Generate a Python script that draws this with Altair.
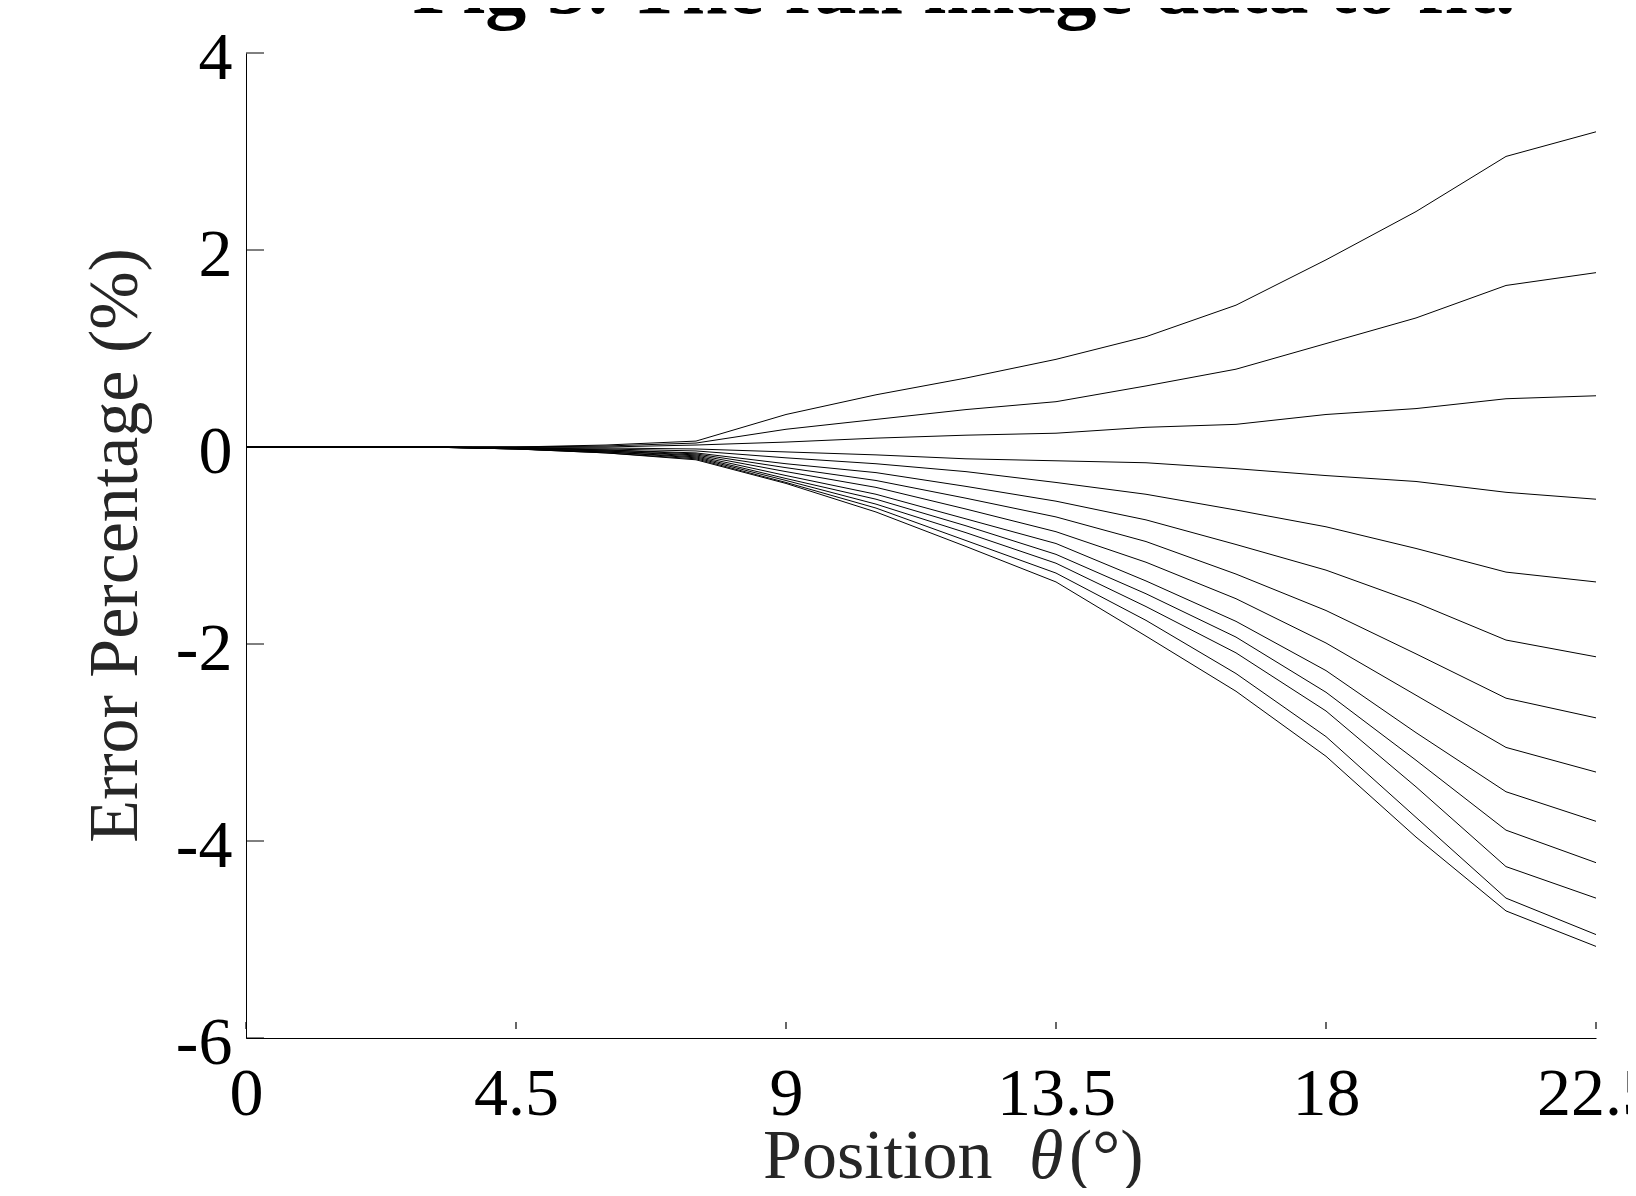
import altair as alt
import pandas as pd

theta = [0, 1.5, 3, 4.5, 6, 7.5, 9, 10.5, 12, 13.5, 15, 16.5, 18, 19.5, 21, 22.5]

s01 = [0, 0, 0, 0.0, 0.02, 0.06, 0.33, 0.53, 0.70, 0.89, 1.12, 1.44, 1.90, 2.39, 2.95, 3.20]
s02 = [0, 0, 0, 0.0, 0.01, 0.04, 0.18, 0.28, 0.38, 0.46, 0.62, 0.79, 1.05, 1.31, 1.64, 1.77]
s03 = [0, 0, 0, 0.0, 0.00, 0.02, 0.05, 0.09, 0.12, 0.14, 0.20, 0.23, 0.33, 0.39, 0.49, 0.52]
s04 = [0, 0, 0, -0.005, -0.01, -0.02, -0.05, -0.08, -0.12, -0.14, -0.16, -0.22, -0.29, -0.35, -0.46, -0.53]
s05 = [0, 0, 0, -0.01, -0.02, -0.04, -0.11, -0.17, -0.25, -0.36, -0.48, -0.64, -0.81, -1.03, -1.27, -1.37]
s06 = [0, 0, 0, -0.01, -0.03, -0.06, -0.17, -0.26, -0.40, -0.55, -0.74, -0.99, -1.25, -1.58, -1.96, -2.13]
s07 = [0, 0, 0, -0.01, -0.03, -0.07, -0.21, -0.34, -0.52, -0.71, -0.96, -1.29, -1.66, -2.10, -2.55, -2.75]
s08 = [0, 0, 0, -0.015, -0.04, -0.08, -0.25, -0.41, -0.63, -0.86, -1.17, -1.54, -1.99, -2.52, -3.05, -3.30]
s09 = [0, 0, 0, -0.015, -0.04, -0.09, -0.29, -0.48, -0.73, -0.98, -1.36, -1.77, -2.27, -2.90, -3.50, -3.80]
s10 = [0, 0, 0, -0.02, -0.05, -0.10, -0.32, -0.53, -0.80, -1.09, -1.49, -1.93, -2.49, -3.18, -3.89, -4.22]
s11 = [0, 0, 0, -0.02, -0.05, -0.11, -0.34, -0.58, -0.87, -1.18, -1.62, -2.09, -2.68, -3.45, -4.26, -4.58]
s12 = [0, 0, 0, -0.02, -0.06, -0.12, -0.36, -0.62, -0.95, -1.28, -1.76, -2.30, -2.94, -3.76, -4.58, -4.95]
s13 = [0, 0, 0, -0.02, -0.06, -0.13, -0.37, -0.66, -1.01, -1.37, -1.92, -2.48, -3.14, -3.96, -4.71, -5.07]

series = [s01, s02, s03, s04, s05, s06, s07, s08, s09, s10, s11, s12, s13]

x_ticks = [0, 4.5, 9, 13.5, 18, 22.5]
y_ticks = [-6, -4, -2, 0, 2, 4]

title_text = "Fig 5. The full image data to fit."
x_title_parts = ["Position", "θ", "(°)"]
y_title = "Error Percentage (%)"

rows = []
for i, s in enumerate(series):
    for t, v in zip(theta, s):
        rows.append({"theta": t, "err": v, "series": f"s{i+1:02d}"})
df = pd.DataFrame(rows)

W, H = 1350, 985
FONT = "Liberation Serif"
TITLE_GRAY = "#262626"

xscale = alt.Scale(domain=[0, 22.5], nice=False, zero=False)
yscale = alt.Scale(domain=[-6, 4], nice=False, zero=False)

lines = alt.Chart(df).mark_line(color="black", strokeWidth=1).encode(
    x=alt.X("theta:Q", scale=xscale,
            axis=alt.Axis(values=x_ticks, title=None, grid=False, ticks=False, tickSize=0,
                          domainColor="black", domainWidth=1.2,
                          labelFont=FONT, labelFontSize=68, labelColor="black",
                          labelFlush=False, labelBaseline="alphabetic", labelPadding=76,
                          labelOverlap=False, labelExpr="'' + datum.value")),
    y=alt.Y("err:Q", scale=yscale,
            axis=alt.Axis(values=y_ticks, title=y_title, grid=False, ticks=False, tickSize=0,
                          domainColor="black", domainWidth=1,
                          labelFont=FONT, labelFontSize=68, labelColor="black",
                          labelFlush=False, labelBaseline="alphabetic", labelOffset=25,
                          labelPadding=14, labelOverlap=False,
                          labelExpr="'' + datum.value",
                          titleFont=FONT, titleFontSize=70, titleFontWeight="normal",
                          titleColor=TITLE_GRAY, titleBaseline="alphabetic",
                          titleX=-110, titleY=492, titleAngle=-90, titleAlign="center")),
    detail="series:N",
)

xt = alt.Chart(pd.DataFrame({"t": x_ticks})).mark_rule(color="black", strokeWidth=1.2).encode(
    x=alt.X("t:Q", scale=xscale),
    y=alt.value(H - 16),
    y2=alt.value(H - 9),
)

yt = alt.Chart(pd.DataFrame({"v": y_ticks})).mark_rule(color="black", strokeWidth=1).encode(
    y=alt.Y("v:Q", scale=yscale),
    x=alt.value(0),
    x2=alt.value(18),
)

tdf = pd.DataFrame({"part": x_title_parts + [title_text]})

def text_part(label, xpos, ypos, style, size, color, align="left", weight="normal"):
    return alt.Chart(tdf).transform_filter(
        alt.datum.part == label
    ).mark_text(font=FONT, fontSize=size, color=color, align=align,
                baseline="alphabetic", fontStyle=style, fontWeight=weight).encode(
        text="part:N", x=alt.value(xpos), y=alt.value(ypos)
    )

xt_pos = text_part(x_title_parts[0], 517, H + 140, "normal", 70, TITLE_GRAY)
xt_theta = text_part(x_title_parts[1], 783, H + 140, "italic", 70, TITLE_GRAY)
xt_deg = text_part(x_title_parts[2], 823, H + 140, "normal", 70, TITLE_GRAY)
top_title = text_part(title_text, 718, -40, "normal", 82, "black", align="center", weight="bold")

chart = alt.layer(lines, xt, yt, xt_pos, xt_theta, xt_deg, top_title).properties(
    width=W,
    height=H,
    background="white",
    padding={"left": 238, "top": 45, "right": 32, "bottom": 150},
    autosize=alt.AutoSizeParams(type="none"),
).configure_view(stroke=None)

chart.save("out.html", embed_options={"renderer": "svg", "actions": False})
